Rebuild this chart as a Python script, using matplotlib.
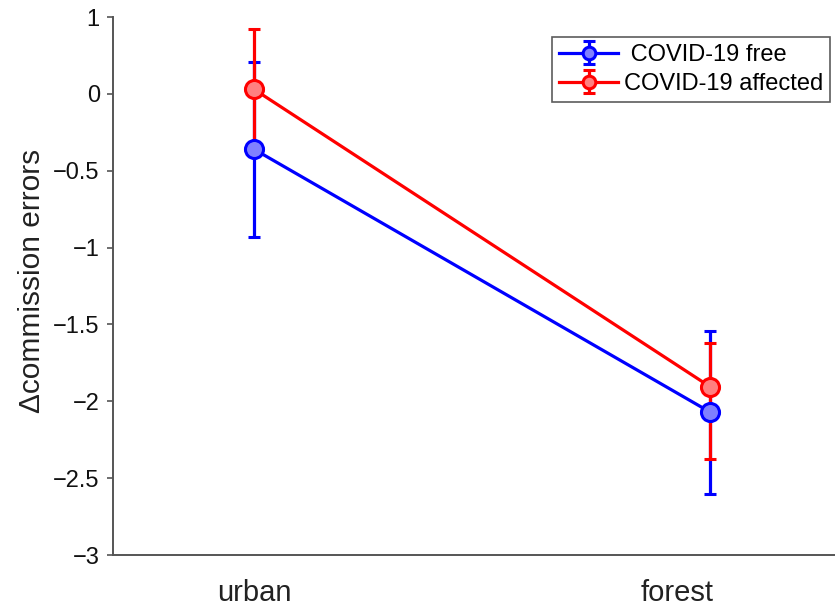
import numpy as np
import matplotlib.pyplot as plt
from matplotlib.transforms import ScaledTranslation

# ── data ──────────────────────────────────────────────────────────────
categories = ['urban', 'forest']
free_mean = [-0.36, -2.07]
free_lo = [-0.93, -2.60]
free_hi = [0.21, -1.54]
affected_mean = [0.03, -1.905]
affected_lo = [-0.35, -2.375]
affected_hi = [0.42, -1.62]
ytick_values = [0.5, 0, -0.5, -1, -1.5, -2, -2.5, -3]
ytick_labels = ['1', '0', '\u22120.5', '\u22121', '\u22121.5', '\u22122', '\u22122.5', '\u22123']

plt.rcParams['font.family'] = ['Liberation Sans', 'DejaVu Sans']

fig = plt.figure(figsize=(8.35, 6.07), dpi=100)
ax = fig.add_axes([113 / 835, 52 / 607, 1 - 113 / 835, 538 / 607])

x = np.arange(1, len(categories) + 1)


def plot_series(mean, lo, hi, color, face, label):
    mean = np.array(mean)
    yerr = [mean - np.array(lo), np.array(hi) - mean]
    ax.errorbar(x, mean, yerr=yerr, color=color, lw=2.3, elinewidth=2.3,
                capsize=4.5, capthick=2.3, marker='o', markersize=13,
                markerfacecolor=face, markeredgecolor=color, markeredgewidth=2.2,
                label=label)


plot_series(free_mean, free_lo, free_hi, '#0000ff', '#8080ff', ' COVID-19 free')
plot_series(affected_mean, affected_lo, affected_hi, '#ff0000', '#ff8080', 'COVID-19 affected')

ax.set_xlim(0.691, 2.274)
ax.set_ylim(-3, 0.5)
ax.set_xticks(x)
ax.set_xticklabels(categories, fontsize=21, color='#222222')
ax.tick_params(axis='x', length=0, pad=17)
# the forest label sits a little left of its point in the original
lbl = ax.get_xticklabels()[1]
lbl.set_transform(lbl.get_transform() + ScaledTranslation(-0.33, 0, fig.dpi_scale_trans))

ax.set_yticks(ytick_values)
ax.set_yticklabels(ytick_labels, fontsize=17, color='#111111')
ax.tick_params(axis='y', direction='out', length=4.5, width=1.2, color='#555555', pad=5)

for s in ['top', 'right']:
    ax.spines[s].set_visible(False)
for s in ['left', 'bottom']:
    ax.spines[s].set_color('#555555')
    ax.spines[s].set_linewidth(1.4)

ax.set_ylabel('\u0394commission errors', fontsize=21.5, color='#222222')
ax.yaxis.set_label_coords(-0.093, 0.51)

leg = ax.legend(loc='upper right', bbox_to_anchor=(1.0, 0.972), borderaxespad=0.2,
                fontsize=17, frameon=True, fancybox=False, handlelength=2.5,
                handletextpad=0.25, borderpad=0.3, labelspacing=0.3, markerscale=0.7)
leg.get_frame().set_edgecolor('#333333')
leg.get_frame().set_linewidth(1.2)

fig.savefig('out.png', dpi=100)
